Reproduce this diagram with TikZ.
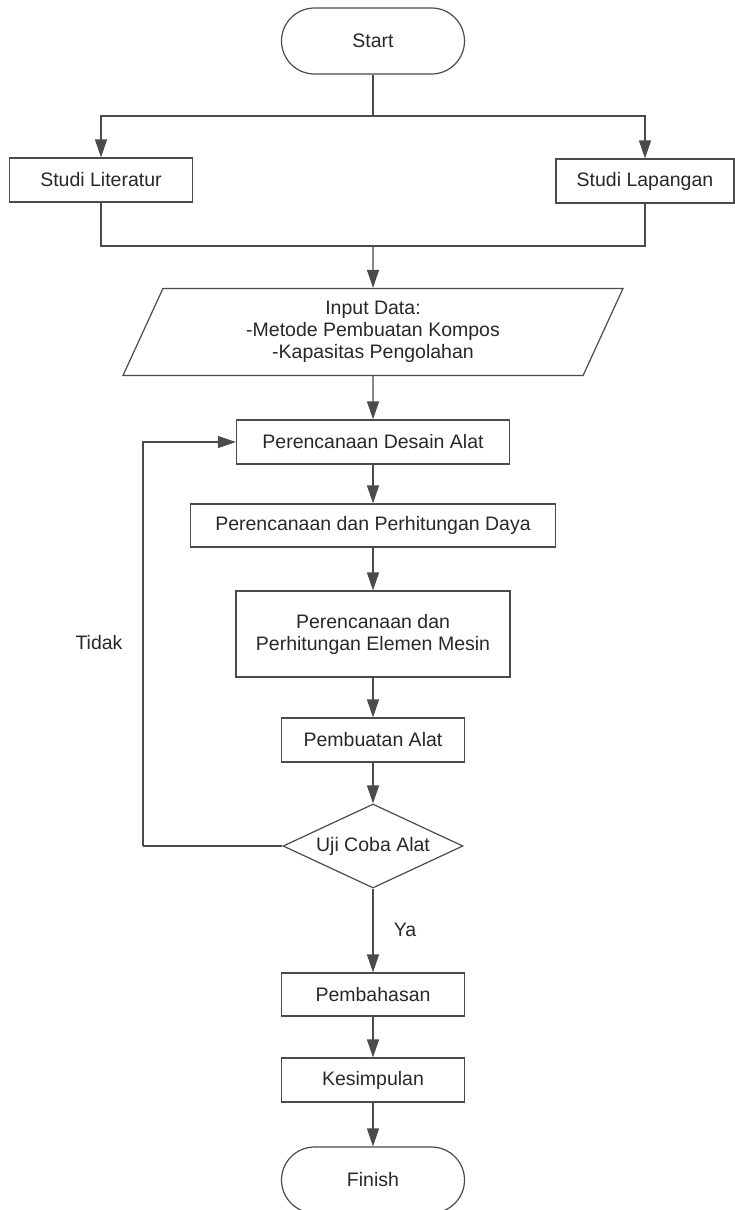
\documentclass[tikz,border=0pt]{standalone}
\usepackage{fontspec}
\setmainfont{Liberation Sans}
\usetikzlibrary{shapes.geometric}
\usetikzlibrary{shapes.misc}
\usetikzlibrary{arrows.meta}
\definecolor{line-gray}{RGB}{75, 75, 75}
\definecolor{text-gray}{RGB}{40, 40, 40}
\tikzset{
  base-box/.style={draw=line-gray, line width=1.2pt, text=text-gray, align=center,
    font=\fontsize{19.5}{22}\selectfont, inner sep=0pt},
  terminal-box/.style={base-box, rounded rectangle, minimum width=183pt, minimum height=66pt},
  process-box/.style={base-box, rectangle, minimum height=44pt},
  input-box/.style={base-box, trapezium, trapezium left angle=57, trapezium right angle=123,
    trapezium stretches body, minimum width=500pt, minimum height=87pt},
  decision-box/.style={base-box, diamond, aspect=2.14, minimum width=180pt, minimum height=84pt},
  connector/.style={draw=line-gray, line width=1.2pt},
  flow-arrow/.style={connector, -{Triangle[length=18pt, width=12pt]}},
  side-label/.style={text=text-gray, font=\fontsize{19.5}{22}\selectfont}
}
\begin{document}
\begin{tikzpicture}[x=1pt, y=-1pt]
\useasboundingbox[fill=white] (0,0) rectangle (734,1210);
% nodes
\node[terminal-box] (start) at (373,41) {Start};
\node[process-box, minimum width=183pt] (literatur) at (101,180) {Studi Literatur};
\node[process-box, minimum width=178pt] (lapangan) at (645,181) {Studi Lapangan};
\node[input-box] (input) at (373,332) {Input Data:\\-Metode Pembuatan Kompos\\-Kapasitas Pengolahan};
\node[process-box, minimum width=273pt] (desain) at (373,442) {Perencanaan Desain Alat};
\node[process-box, minimum width=365pt, minimum height=43pt] (daya) at (373,525.5) {Perencanaan dan Perhitungan Daya};
\node[process-box, minimum width=274pt, minimum height=86pt] (elemen) at (373,634) {Perencanaan dan\\Perhitungan Elemen Mesin};
\node[process-box, minimum width=183pt] (pembuatan) at (373,740) {Pembuatan Alat};
\node[decision-box] (uji) at (373,846) {Uji Coba Alat};
\node[process-box, minimum width=183pt, minimum height=43pt] (pembahasan) at (373,994.5) {Pembahasan};
\node[process-box, minimum width=183pt] (kesimpulan) at (373,1080) {Kesimpulan};
\node[terminal-box] (finish) at (373,1180) {Finish};
\node[side-label] (tidak) at (99,643) {Tidak};
\node[side-label] (ya) at (405,930) {Ya};
\coordinate (split) at (373,116);
\coordinate (merge) at (373,246);
\coordinate (loop) at (143,846);
% connectors
\draw[connector] (start.south) -- (split);
\draw[flow-arrow] (split) -| (literatur.north);
\draw[flow-arrow] (split) -| (lapangan.north);
\draw[connector] (literatur.south) |- (merge);
\draw[connector] (lapangan.south) |- (merge);
\draw[flow-arrow] (merge) -- (input.north);
\draw[flow-arrow] (input.south) -- (desain.north);
\draw[flow-arrow] (desain) -- (daya);
\draw[flow-arrow] (daya) -- (elemen);
\draw[flow-arrow] (elemen) -- (pembuatan);
\draw[flow-arrow] (pembuatan) -- (uji.north);
\draw[flow-arrow] (uji.south) -- (pembahasan);
\draw[flow-arrow] (pembahasan) -- (kesimpulan);
\draw[flow-arrow] (kesimpulan) -- (finish);
\draw[connector] (uji.west) -- (loop);
\draw[flow-arrow] (loop) |- (desain.west);
\end{tikzpicture}
\end{document}
